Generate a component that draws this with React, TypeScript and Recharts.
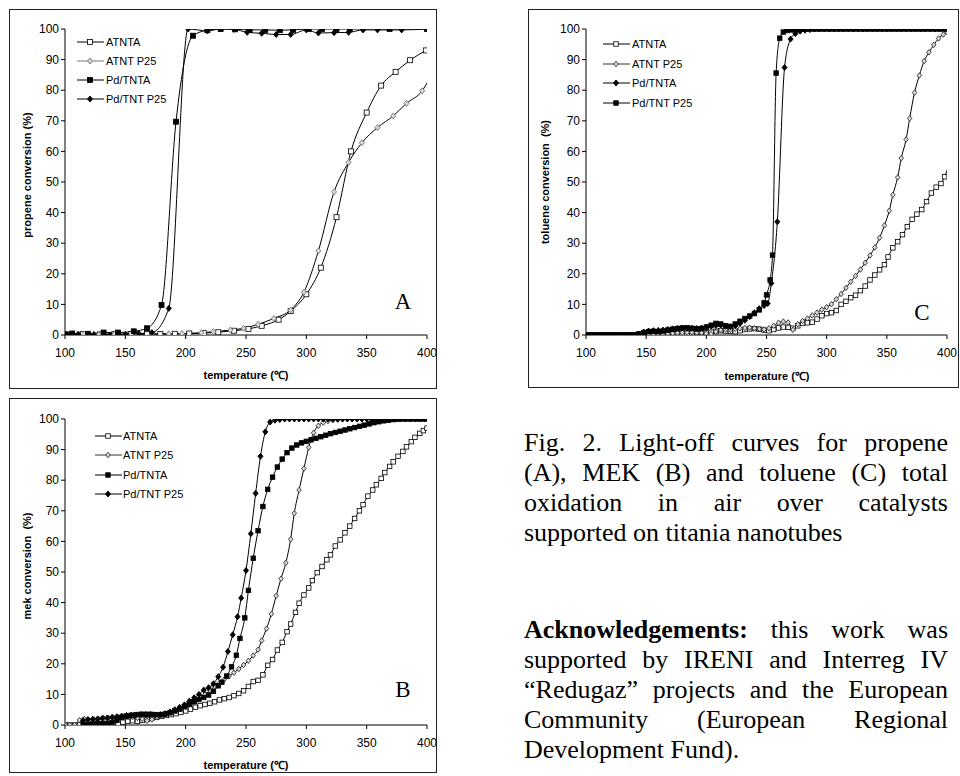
import React from "react";
import { LineChart, Line, XAxis, YAxis } from "recharts";

// ── Data: [temperature °C, conversion %] ─────────────────────────────────
type Pt = [number, number];

const X_TICKS = [100, 150, 200, 250, 300, 350, 400];
const Y_TICKS = [0, 10, 20, 30, 40, 50, 60, 70, 80, 90, 100];
const SERIES_NAMES = ["ATNTA", "ATNT P25", "Pd/TNTA", "Pd/TNT P25"];

// (A) propene
const A_ATNTA: Pt[] = [
  [100, 0.2], [115, 0.3], [129, 0.2], [141, 0.3], [155, 0.3], [168, 0.3], [179, 0.3], [191, 0.4],
  [203, 0.5], [215, 0.6], [227, 0.9], [240, 1.4], [252, 2], [263, 3], [277, 5], [287, 7.8],
  [300, 13.3], [312, 22], [325, 38.5], [337, 60], [350, 72.7], [362, 81.5], [374, 86], [386, 89.8],
  [399, 93],
];
const A_ATNTP25: Pt[] = [
  [103, 0.2], [116, 0.3], [128, 0.1], [141, 0.2], [160, 0.3], [172, 0.4], [186, 0.4], [197, 0.5],
  [213, 0.7], [223, 1.1], [237, 1.6], [248, 2.2], [260, 3.5], [273, 5.4], [287, 8.2], [298, 14],
  [310, 27.5], [323, 46.8], [335, 56.4], [346, 62.8], [359, 67.8], [372, 71.6], [383, 75.7],
  [396, 79.8], [401, 83],
];
const A_PDTNTA: Pt[] = [
  [100, 0.2], [106, 0.5], [119, 0.4], [132, 0.8], [144, 0.8], [157, 1.2], [168, 2.2], [180, 9.8],
  [192, 69.7], [206, 97.8], [218, 99.6], [229, 100], [241, 99.9], [253, 99.7], [266, 99.7],
  [278, 99.6], [289, 99.7], [302, 100], [313, 100], [325, 100], [336, 100], [369, 100], [400, 100],
];
const A_PDTNTP25: Pt[] = [
  [103, 0], [111, 0.3], [124, 0.2], [137, 0], [150, 0.2], [161, 0.5], [172, 0.8], [186, 8.7],
  [202, 100], [218, 99.4], [229, 100], [240, 99.9], [251, 98.9], [263, 98.6], [275, 98.2],
  [287, 98.2], [300, 99.7], [310, 98.7], [323, 98.8], [335, 98.9], [347, 99.7], [359, 99.7],
  [379, 99.7], [400, 100],
];

// (B) mek
const B_ATNTA: Pt[] = [
  [100, 0], [104, 0], [108, 0], [112, 0], [116, 0.2], [120, 0.2], [124, 0.3], [128, 0.3],
  [132, 0.4], [136, 0.4], [140, 0.5], [144, 0.6], [148, 0.9], [152, 1.2], [156, 1.4], [160, 1.2],
  [164, 1.5], [168, 1.8], [172, 2.2], [176, 2.5], [180, 2.8], [184, 3.1], [188, 3.4], [192, 3.7],
  [196, 4.1], [200, 4.6], [204, 5.2], [208, 5.8], [212, 6.3], [216, 6.7], [220, 7.1], [224, 7.6],
  [228, 8.2], [232, 8.6], [236, 9.0], [240, 9.6], [244, 10.3], [248, 11.2], [252, 12.6],
  [256, 14.2], [260, 14.6], [264, 16.4], [268, 19.5], [272, 21.4], [276, 24.5], [280, 27],
  [284, 30.5], [287, 33], [291, 36.8], [294, 39.8], [298, 42.5], [302, 44.8], [305, 47.2],
  [309, 49.8], [313, 51.8], [317, 54], [320, 55.6], [324, 58.5], [328, 60.5], [332, 62.8],
  [336, 65], [340, 67.5], [344, 70], [347, 72], [351, 74.8], [355, 76.8], [358, 78.5], [362, 80.6],
  [365, 82.5], [369, 84.5], [372, 86], [376, 87.8], [380, 89.4], [383, 90.9], [387, 92.6],
  [390, 94], [394, 95.3], [397, 96.2], [400, 97],
];
const B_ATNTP25: Pt[] = [
  [100, 0], [104, 0], [108, 0], [112, 1.6], [116, 2.0], [120, 1.5], [124, 1.8], [128, 2.0],
  [132, 2.2], [136, 2.3], [140, 2.5], [144, 2.6], [148, 2.8], [152, 2.8], [156, 2.6], [160, 2.3],
  [164, 2.0], [168, 1.4], [172, 1.8], [176, 2.6], [180, 3.2], [184, 3.6], [188, 4.0], [192, 4.6],
  [196, 5.2], [200, 5.9], [204, 6.8], [208, 7.8], [212, 8.9], [216, 10.0], [220, 11.3],
  [224, 12.6], [228, 13.8], [232, 14.9], [236, 16.0], [240, 17.1], [244, 18.3], [248, 19.6],
  [252, 21.0], [256, 22.7], [260, 24.6], [263, 27.6], [267, 31.5], [271, 36.3], [275, 42.2],
  [279, 47.8], [283, 53], [287, 60.7], [290, 69.2], [294, 76.8], [298, 83.8], [302, 90.7],
  [306, 95.5], [310, 97.8], [314, 98.8], [318, 99.3], [322, 99.6], [326, 99.8], [330, 99.9],
  [334, 100], [338, 100], [342, 100], [346, 100], [350, 100], [354, 100], [358, 100], [362, 100],
  [366, 100], [370, 100], [374, 100], [378, 100], [382, 100], [386, 100], [390, 100], [394, 100],
  [398, 100],
];
const B_PDTNTA: Pt[] = [
  [115, 0.2], [119, 0.2], [123, 0.3], [127, 0.3], [131, 0.4], [135, 0.5], [139, 0.8], [143, 1.5],
  [147, 2.5], [151, 2.9], [155, 3.2], [159, 3.4], [163, 3.5], [167, 3.5], [171, 3.5], [175, 3.4],
  [179, 3.4], [183, 3.6], [187, 4.0], [191, 4.6], [195, 5.2], [199, 6.0], [203, 6.8], [207, 7.6],
  [211, 8.3], [215, 9.0], [219, 9.8], [223, 11.0], [227, 12.8], [230, 14.0], [234, 16.0],
  [238, 19.0], [242, 22.8], [245, 28.3], [249, 35], [252, 44], [256, 54.5], [260, 63.5],
  [264, 71.4], [268, 77], [272, 81], [276, 84.3], [280, 86.9], [284, 89], [288, 90.5], [292, 91.5],
  [296, 92.2], [300, 92.7], [304, 93.2], [308, 93.7], [312, 94.2], [316, 94.7], [320, 95.2],
  [324, 95.6], [328, 96.0], [332, 96.4], [336, 96.8], [340, 97.2], [344, 97.6], [348, 98.0],
  [352, 98.4], [356, 98.8], [360, 99.1], [364, 99.4], [368, 99.6], [372, 99.8], [376, 99.9],
  [380, 100], [384, 100], [388, 100], [392, 100], [396, 100], [400, 100],
];
const B_PDTNTP25: Pt[] = [
  [115, 1.5], [119, 1.8], [123, 1.9], [127, 2.0], [131, 2.2], [135, 2.3], [139, 2.5], [143, 2.7],
  [147, 2.9], [151, 3.1], [155, 3.2], [159, 3.3], [163, 3.4], [167, 3.4], [171, 3.4], [175, 3.3],
  [179, 3.4], [183, 3.7], [187, 4.3], [191, 5.0], [195, 5.8], [199, 6.6], [203, 7.8], [207, 8.9],
  [211, 10.0], [215, 11.4], [219, 12.2], [223, 13.5], [227, 15.8], [231, 18.9], [235, 24],
  [239, 29.5], [243, 35.4], [246, 41.5], [250, 50.5], [254, 62.5], [258, 75.7], [262, 87.8],
  [266, 95.8], [270, 99], [274, 99.6], [278, 99.8], [282, 100], [286, 100], [290, 100], [294, 100],
  [298, 100], [302, 100], [306, 100], [310, 100], [314, 100], [318, 100], [322, 100], [326, 100],
  [330, 100], [334, 100], [338, 100], [342, 100], [346, 100], [350, 100], [354, 100], [358, 100],
  [362, 100], [366, 100], [370, 100], [374, 100], [378, 100], [382, 100], [386, 100], [390, 100],
  [394, 100], [398, 100],
];

// (C) toluene
const C_ATNTA: Pt[] = [
  [100, 0], [104, 0], [108, 0], [112, 0], [116, 0], [120, 0], [124, 0], [128, 0], [132, 0],
  [136, 0], [140, 0], [144, 0], [148, 0], [152, 0], [156, 0], [160, 0], [164, 0], [168, 0.2],
  [172, 0.3], [176, 0.4], [180, 0.5], [184, 0.6], [188, 0.7], [192, 0.8], [196, 0.8], [200, 0.7],
  [204, 0.9], [208, 1.2], [212, 1.4], [216, 1.3], [220, 1.2], [224, 1.1], [228, 1.4], [232, 1.8],
  [236, 2.0], [240, 2.1], [244, 1.9], [248, 1.6], [252, 1.4], [256, 1.8], [260, 2.3], [264, 2.6],
  [268, 2.5], [272, 2.2], [276, 3.0], [280, 3.8], [284, 4.0], [288, 4.2], [292, 5.2], [296, 6.3],
  [300, 7.0], [304, 7.3], [308, 8.0], [312, 10.0], [316, 11.0], [320, 12.2], [324, 13.0],
  [328, 14.5], [332, 16.0], [336, 18.0], [340, 19.6], [344, 21.3], [348, 23.0], [351, 25.5],
  [355, 28.5], [359, 30.5], [363, 32.8], [367, 35.4], [371, 37.8], [375, 39.5], [379, 41.0],
  [383, 43.6], [387, 46.4], [391, 48.3], [395, 49.5], [398, 51.7], [402, 56],
];
const C_ATNTP25: Pt[] = [
  [100, 0], [104, 0], [108, 0], [112, 0], [116, 0], [120, 0], [124, 0], [128, 0], [132, 0],
  [136, 0], [140, 0], [144, 0.2], [148, 0.3], [152, 0.4], [156, 0.4], [160, 0.5], [164, 0.6],
  [168, 0.6], [172, 0.6], [176, 0.7], [180, 0.8], [184, 0.8], [188, 0.9], [192, 0.8], [196, 0.7],
  [200, 0.5], [204, 0.3], [208, 1.0], [212, 1.6], [216, 1.8], [220, 1.7], [224, 2.0], [228, 2.2],
  [232, 2.3], [236, 2.4], [240, 2.2], [244, 2.0], [248, 1.8], [252, 2.2], [256, 3.0], [260, 4.0],
  [264, 4.4], [268, 4.1], [272, 1.7], [276, 3.5], [280, 4.6], [284, 5.4], [288, 6.4], [292, 7.3],
  [296, 8.3], [300, 9.1], [304, 10.1], [308, 11.7], [312, 13.4], [316, 15.4], [320, 17.4],
  [324, 19.3], [328, 21.4], [332, 23.6], [336, 26.0], [340, 28.6], [344, 31.8], [348, 35.8],
  [352, 40.6], [355, 45.8], [359, 51.5], [362, 57.8], [366, 63.9], [369, 70.8], [373, 79.2],
  [377, 84.8], [381, 89.5], [385, 92.4], [389, 94.8], [393, 96.9], [397, 98.2], [400, 99],
];
const C_PDTNTA: Pt[] = [
  [100, 0], [104, 0], [108, 0], [112, 0], [116, 0], [120, 0], [124, 0], [128, 0], [132, 0],
  [136, 0], [140, 0], [144, 0.2], [148, 1.0], [152, 1.3], [156, 1.4], [160, 1.5], [164, 1.6],
  [168, 1.8], [172, 2.0], [176, 2.2], [180, 2.3], [184, 2.2], [188, 2.2], [192, 2.1], [196, 2.3],
  [200, 2.6], [204, 2.8], [208, 3.1], [212, 3.2], [216, 2.9], [220, 2.7], [224, 3.0], [228, 3.8],
  [232, 4.8], [236, 6.0], [240, 7.3], [244, 8.6], [248, 9.6], [251, 10.3], [254, 16.9], [259, 37],
  [265, 87.4], [270, 96.7], [274, 98.5], [278, 99.3], [282, 99.6], [286, 99.8], [290, 100],
  [294, 100], [298, 100], [302, 100], [306, 100], [310, 100], [314, 100], [318, 100], [322, 100],
  [326, 100], [330, 100], [334, 100], [338, 100], [342, 100], [346, 100], [350, 100], [354, 100],
  [358, 100], [362, 100], [366, 100], [370, 100], [374, 100], [378, 100], [382, 100], [386, 100],
  [390, 100], [394, 100], [398, 100],
];
const C_PDTNTP25: Pt[] = [
  [100, 0], [104, 0], [108, 0], [112, 0], [116, 0], [120, 0], [124, 0], [128, 0], [132, 0],
  [136, 0], [140, 0], [144, 0.4], [148, 0.8], [152, 1.1], [156, 1.2], [160, 1.1], [164, 1.3],
  [168, 1.6], [172, 1.9], [176, 2.1], [180, 2.3], [184, 2.4], [188, 2.2], [192, 2.0], [196, 2.1],
  [200, 2.6], [204, 3.2], [208, 3.8], [212, 3.6], [216, 3.0], [220, 2.8], [224, 3.6], [228, 4.5],
  [232, 5.4], [236, 6.2], [240, 7.0], [244, 8.2], [248, 10.5], [250, 13.1], [253, 18], [255, 26.1],
  [258, 85.6], [261, 97], [264, 99], [267, 99.5], [270, 99.7], [274, 99.8], [278, 100], [282, 100],
  [286, 100], [290, 100], [294, 100], [298, 100], [302, 100], [306, 100], [310, 100], [314, 100],
  [318, 100], [322, 100], [326, 100], [330, 100], [334, 100], [338, 100], [342, 100], [346, 100],
  [350, 100], [354, 100], [358, 100], [362, 100], [366, 100], [370, 100], [374, 100], [378, 100],
  [382, 100], [386, 100], [390, 100], [394, 100], [398, 100],
];

// ── Style helpers ─────────────────────────────────────────────────────────
const SANS = "'Liberation Sans', Arial, sans-serif";
const SERIF = "'Liberation Serif', 'Times New Roman', serif";
const TICK = { fill: "#000", fontSize: 12, fontFamily: SANS };

type Shape = "sq" | "dia" | "fsq" | "fdia";

const marker = (shape: Shape, cx: number, cy: number, size: number, color: string, key?: string) => {
  const h = size / 2;
  if (shape === "sq" || shape === "fsq") {
    const filled = shape === "fsq";
    return (
      <rect key={key} x={cx - h} y={cy - h} width={size} height={size}
        fill={filled ? "#000" : "#fff"} stroke="#000" strokeWidth={0.8} />
    );
  }
  const filled = shape === "fdia";
  const d = `M${cx},${cy - h - 0.5}L${cx + h},${cy}L${cx},${cy + h + 0.5}L${cx - h},${cy}Z`;
  return (
    <path key={key} d={d} fill={filled ? "#000" : "#d8d8d8"}
      stroke={filled ? "#000" : color} strokeWidth={0.9} />
  );
};

const mkDot = (shape: Shape, size: number, color: string) => (p: any) => {
  const key = `d-${p.index}`;
  if (p.cx == null || p.cy == null || p.payload?.t > 400) return <g key={key} />;
  return marker(shape, p.cx, p.cy, size, color, key);
};

interface SeriesDef { name: string; pts: Pt[]; shape: Shape; size: number; color: string }

interface PanelProps {
  left: number; top: number; width: number; height: number;
  margin: { top: number; right: number; bottom: number; left: number };
  series: SeriesDef[];
  box: { left: number; top: number; width: number; height: number };
  yTitle: string; yTitlePos: [number, number];
  xTitlePos: [number, number];
  letter: string; letterPos: [number, number];
  legend: { x: number; y: number; textX: number; step: number };
}

const Panel: React.FC<PanelProps> = (p) => (
  <>
    <div style={{
      position: "absolute", left: p.box.left, top: p.box.top, width: p.box.width, height: p.box.height,
      border: "1.5px solid #222", boxSizing: "border-box",
    }} />
    <div style={{ position: "absolute", left: p.left, top: p.top }}>
      <LineChart width={p.width} height={p.height} margin={p.margin}>
        <XAxis
          type="number" dataKey="t" domain={[100, 400]} ticks={X_TICKS} allowDataOverflow
          tick={TICK} tickSize={4} tickMargin={9} height={30}
          axisLine={{ stroke: "#000" }} tickLine={{ stroke: "#000" }}
        />
        <YAxis
          type="number" domain={[0, 100]} ticks={Y_TICKS} allowDataOverflow
          tick={TICK} tickSize={4} tickMargin={2} width={30}
          axisLine={{ stroke: "#000" }} tickLine={{ stroke: "#000" }}
        />
        {p.series.map((s) => (
          <Line
            key={s.name}
            data={s.pts.map(([t, v]) => ({ t, v }))}
            dataKey="v"
            type="monotone"
            stroke="#000"
            strokeWidth={1}
            dot={mkDot(s.shape, s.size, s.color)}
            activeDot={false}
            isAnimationActive={false}
          />
        ))}
      </LineChart>
    </div>

    {/* legend */}
    {p.series.map((s, i) => {
      const y = p.legend.y + i * p.legend.step;
      return (
        <React.Fragment key={s.name}>
          <svg style={{ position: "absolute", left: p.legend.x, top: y - 5 }} width={28} height={10}>
            <line x1={0} x2={27} y1={5} y2={5} stroke={s.shape === "dia" ? s.color : "#000"} strokeWidth={1} />
            {marker(s.shape, 13, 5, s.size, s.color)}
          </svg>
          <div style={{
            position: "absolute", left: p.legend.textX, top: y - 8, fontFamily: SANS,
            fontSize: 11, lineHeight: "16px", whiteSpace: "nowrap",
          }}>{s.name}</div>
        </React.Fragment>
      );
    })}

    <div style={{
      position: "absolute", left: p.yTitlePos[0], top: p.yTitlePos[1],
      transform: "translate(-50%, -50%) rotate(-90deg)", fontFamily: SANS, fontSize: 11,
      fontWeight: 700, whiteSpace: "pre",
    }}>{p.yTitle}</div>
    <div style={{
      position: "absolute", left: p.xTitlePos[0], top: p.xTitlePos[1],
      transform: "translate(-50%, -50%)", fontFamily: SANS, fontSize: 11, fontWeight: 700,
      whiteSpace: "pre",
    }}>temperature (℃)</div>
    <div style={{
      position: "absolute", left: p.letterPos[0], top: p.letterPos[1],
      transform: "translate(-50%, -50%)", fontFamily: SERIF, fontSize: 23,
    }}>{p.letter}</div>
  </>
);

const CAPTION = [
  "Fig. 2. Light-off curves for propene",
  "(A), MEK (B) and toluene (C) total",
  "oxidation in air over catalysts",
  "supported on titania nanotubes",
];
const ACK_LINES = [
  "supported by IRENI and Interreg IV",
  "“Redugaz” projects and the European",
  "Community (European Regional",
  "Development Fund).",
];

const TextLine: React.FC<{ text: React.ReactNode; last?: boolean }> = ({ text, last }) => (
  <div style={{ textAlign: "justify", textAlignLast: last ? "left" : "justify", whiteSpace: "nowrap" as any }}>
    {text}
  </div>
);

export default function App() {
  return (
    <div style={{ position: "absolute", left: 0, top: 0, width: 960, height: 776, background: "#fff", overflow: "hidden" }}>
      <Panel
        left={0} top={0} width={440} height={391}
        margin={{ top: 29, right: 13, bottom: 26, left: 35 }}
        box={{ left: 9, top: 9, width: 428, height: 380 }}
        series={[
          { name: SERIES_NAMES[0], pts: A_ATNTA, shape: "sq", size: 5, color: "#000" },
          { name: SERIES_NAMES[1], pts: A_ATNTP25, shape: "dia", size: 5, color: "#777" },
          { name: SERIES_NAMES[2], pts: A_PDTNTA, shape: "fsq", size: 5, color: "#000" },
          { name: SERIES_NAMES[3], pts: A_PDTNTP25, shape: "fdia", size: 5, color: "#000" },
        ]}
        yTitle="propene conversion (%)" yTitlePos={[27, 175]}
        xTitlePos={[246, 374]}
        letter="A" letterPos={[403, 302]}
        legend={{ x: 77, y: 42, textX: 106, step: 19 }}
      />
      <Panel
        left={0} top={391} width={440} height={385}
        margin={{ top: 28, right: 13, bottom: 21, left: 35 }}
        box={{ left: 9, top: 398, width: 428, height: 375 }}
        series={[
          { name: SERIES_NAMES[0], pts: B_ATNTA, shape: "sq", size: 4.5, color: "#000" },
          { name: SERIES_NAMES[1], pts: B_ATNTP25, shape: "dia", size: 4.5, color: "#333" },
          { name: SERIES_NAMES[2], pts: B_PDTNTA, shape: "fsq", size: 4.5, color: "#000" },
          { name: SERIES_NAMES[3], pts: B_PDTNTP25, shape: "fdia", size: 5, color: "#000" },
        ]}
        yTitle={"mek conversion  (%)"} yTitlePos={[27, 566]}
        xTitlePos={[246, 764]}
        letter="B" letterPos={[403, 690]}
        legend={{ x: 95, y: 436, textX: 123, step: 19.3 }}
      />
      <Panel
        left={500} top={0} width={460} height={391}
        margin={{ top: 29, right: 13, bottom: 26, left: 56 }}
        box={{ left: 528, top: 9, width: 431, height: 379 }}
        series={[
          { name: SERIES_NAMES[0], pts: C_ATNTA, shape: "sq", size: 4.5, color: "#000" },
          { name: SERIES_NAMES[1], pts: C_ATNTP25, shape: "dia", size: 4.5, color: "#333" },
          { name: SERIES_NAMES[2], pts: C_PDTNTA, shape: "fdia", size: 5, color: "#000" },
          { name: SERIES_NAMES[3], pts: C_PDTNTP25, shape: "fsq", size: 4.5, color: "#000" },
        ]}
        yTitle={"toluene conversion  (%)"} yTitlePos={[545, 182]}
        xTitlePos={[767, 375]}
        letter="C" letterPos={[922, 313]}
        legend={{ x: 603, y: 44, textX: 632, step: 19.5 }}
      />

      {/* caption */}
      <div style={{
        position: "absolute", left: 524, top: 428, width: 424, fontFamily: SERIF,
        fontSize: 26, lineHeight: "30px", color: "#000",
      }}>
        {CAPTION.map((l, i) => <TextLine key={i} text={l} last={i === CAPTION.length - 1} />)}
      </div>
      <div style={{
        position: "absolute", left: 524, top: 615, width: 424, fontFamily: SERIF,
        fontSize: 26, lineHeight: "30px", color: "#000",
      }}>
        <TextLine text={<><b>Acknowledgements:</b> this work was</>} />
        {ACK_LINES.map((l, i) => <TextLine key={i} text={l} last={i === ACK_LINES.length - 1} />)}
      </div>
    </div>
  );
}
